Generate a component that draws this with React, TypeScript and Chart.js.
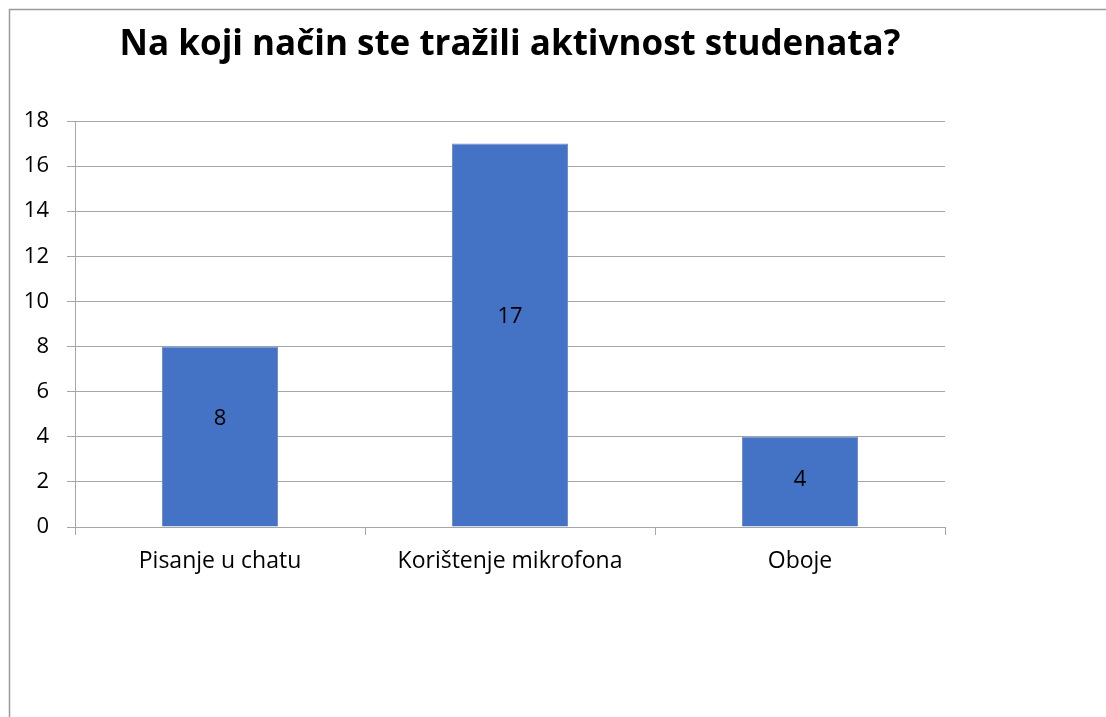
import React, { useEffect, useRef } from "react";
import { Chart, registerables } from "chart.js";

Chart.register(...registerables);

const TITLE = "Na koji način ste tražili aktivnost studenata?";
const categories = ["Pisanje u chatu", "Korištenje mikrofona", "Oboje"];
const values = [8, 17, 4];
const yMin = 0;
const yMax = 18;
const yStep = 2;

const FONT = "'Open Sans', Lato, sans-serif";

const framePlugin = {
  id: "frame",
  beforeDraw(chart: any) {
    const ctx = chart.ctx;
    ctx.save();
    ctx.fillStyle = "#ffffff";
    ctx.fillRect(0, 0, chart.width, chart.height);
    ctx.strokeStyle = "#9a9a9a";
    ctx.lineWidth = 1.5;
    ctx.beginPath();
    ctx.moveTo(9.5, chart.height);
    ctx.lineTo(9.5, 9.5);
    ctx.lineTo(chart.width, 9.5);
    ctx.stroke();
    ctx.restore();
  },
};

const titlePlugin = {
  id: "customTitle",
  afterDraw(chart: any) {
    const ctx = chart.ctx;
    const area = chart.chartArea;
    ctx.save();
    ctx.fillStyle = "#000000";
    ctx.font = `bold 35px ${FONT}`;
    ctx.textAlign = "center";
    ctx.textBaseline = "alphabetic";
    ctx.fillText(TITLE, (area.left + area.right) / 2, 55);
    ctx.restore();
  },
};

const labelPlugin = {
  id: "barLabels",
  afterDatasetsDraw(chart: any) {
    const ctx = chart.ctx;
    const meta = chart.getDatasetMeta(0);
    ctx.save();
    ctx.fillStyle = "#000000";
    ctx.font = `22px ${FONT}`;
    ctx.textAlign = "center";
    ctx.textBaseline = "alphabetic";
    meta.data.forEach((bar: any, i: number) => {
      const h = bar.base - bar.y;
      const mid = (bar.base + bar.y) / 2;
      const off = Math.max(4, Math.min(20, (h - 90) * 0.22));
      ctx.fillText(String(values[i]), bar.x, mid - off + 8);
    });
    ctx.restore();
  },
};

export default function App() {
  const ref = useRef<HTMLCanvasElement>(null);

  useEffect(() => {
    document.body.style.margin = "0";
    const canvas = ref.current!;
    const chart = new Chart(canvas, {
      type: "bar",
      data: {
        labels: categories,
        datasets: [
          {
            data: values,
            backgroundColor: "#4472C4",
            borderColor: "#6F8FD0",
            borderWidth: 1,
            categoryPercentage: 1,
            barPercentage: 0.4,
          },
        ],
      },
      options: {
        animation: false,
        responsive: false,
        maintainAspectRatio: false,
        devicePixelRatio: 1,
        layout: { padding: { top: 121, right: 161, left: 0, bottom: 0 } },
        plugins: {
          legend: { display: false },
          title: { display: false },
          tooltip: { enabled: false },
        },
        scales: {
          x: {
            offset: true,
            grid: {
              offset: true,
              drawOnChartArea: false,
              drawTicks: true,
              tickLength: 8,
              color: "#a6a6a6",
            },
            border: { display: true, color: "#a6a6a6", width: 1 },
            ticks: {
              color: "#000000",
              font: { family: FONT, size: 23 },
              padding: 13,
              maxRotation: 0,
            },
            afterFit(scale: any) {
              scale.height = 190;
            },
          },
          y: {
            min: yMin,
            max: yMax,
            grid: {
              color: "#a6a6a6",
              drawTicks: true,
              tickLength: 8,
            },
            border: { display: true, color: "#a6a6a6", width: 1 },
            ticks: {
              stepSize: yStep,
              color: "#000000",
              font: { family: FONT, size: 22 },
              padding: 18,
            },
            afterFit(scale: any) {
              scale.width = 75;
            },
          },
        },
      },
      plugins: [framePlugin, titlePlugin, labelPlugin],
    });
    return () => chart.destroy();
  }, []);

  return (
    <div style={{ width: 1106, height: 717 }}>
      <canvas ref={ref} width={1106} height={717} style={{ display: "block" }} />
    </div>
  );
}
